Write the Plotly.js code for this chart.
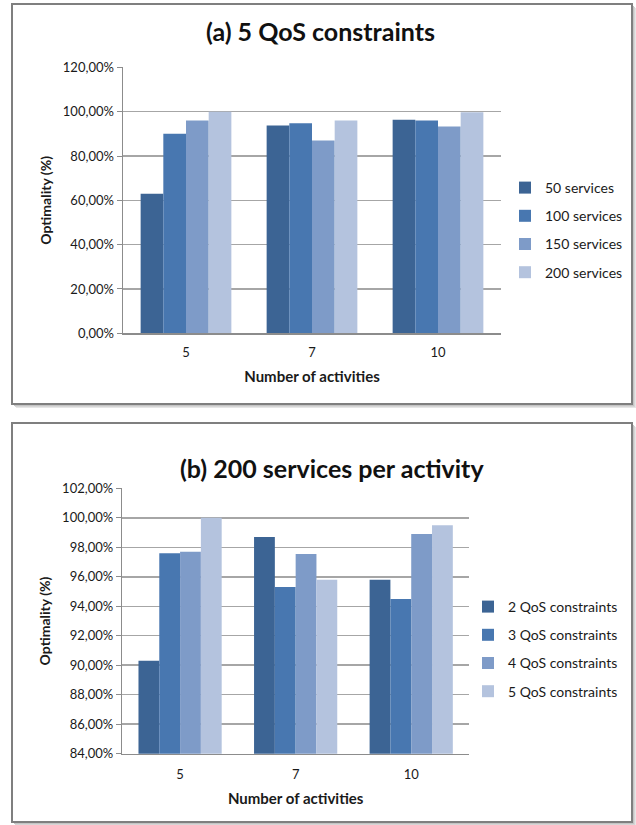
<!DOCTYPE html>
<html>
<head>
<meta charset="utf-8">
<script src="https://cdn.plot.ly/plotly-3.0.1.min.js"></script>
<style>html,body{margin:0;padding:0;background:#fff;}#chart{width:636px;height:825px;}</style>
</head>
<body>
<div id="chart"></div>
<script>
// ---- data ----
const activities = ['5', '7', '10'];
const seriesA = ['50 services', '100 services', '150 services', '200 services'];
const valuesA50  = [63.0, 93.8, 96.4];
const valuesA100 = [90.0, 94.8, 96.0];
const valuesA150 = [96.0, 87.0, 93.3];
const valuesA200 = [100.0, 96.0, 99.8];
const seriesB = ['2 QoS constraints', '3 QoS constraints', '4 QoS constraints', '5 QoS constraints'];
const valuesB2 = [90.3, 98.7, 95.8];
const valuesB3 = [97.6, 95.3, 94.5];
const valuesB4 = [97.7, 97.55, 98.9];
const valuesB5 = [100.0, 95.8, 99.5];
const titleA = '(a) 5 QoS constraints';
const titleB = '(b) 200 services per activity';
const yTitle = 'Optimality (%)';
const xTitle = 'Number of activities';

const colors = ['#3C6494', '#4877B0', '#7E9BC8', '#B4C3DE'];
const W = 636, H = 825;
const px = x => x / W;
const py = y => 1 - y / H;
const FONT = 'Lato, "Open Sans", sans-serif';

const valsA = [valuesA50, valuesA100, valuesA150, valuesA200];
const valsB = [valuesB2, valuesB3, valuesB4, valuesB5];

const traces = [];
seriesA.forEach((name, i) => traces.push({
  type: 'bar', x: activities, y: valsA[i], name: name,
  marker: {color: colors[i], line: {width: 0}},
  xaxis: 'x', yaxis: 'y', legend: 'legend', legendgroup: 'a' + i
}));
seriesB.forEach((name, i) => traces.push({
  type: 'bar', x: activities, y: valsB[i], name: name,
  marker: {color: colors[i], line: {width: 0}},
  xaxis: 'x2', yaxis: 'y2', legend: 'legend2', legendgroup: 'b' + i
}));

const axisCommon = {
  showline: true, linecolor: '#8C8C8C', linewidth: 1.5,
  tickfont: {family: FONT, size: 13, color: '#1a1a1a'},
  zeroline: false, fixedrange: true
};
const xTitleFont = {family: FONT, size: 15, color: '#1a1a1a', weight: 'bold'};
const yTitleFont = {family: FONT, size: 14, color: '#1a1a1a', weight: 'bold'};

function box(x0, y0, x1, y1) {
  const s = [];
  [[4, '#e6e6e6'], [3, '#d6d6d6'], [2, '#c4c4c4']].forEach(([o, c]) => {
    s.push({type: 'rect', xref: 'paper', yref: 'paper', layer: 'below',
      x0: px(x0 + o), x1: px(x1 + o), y0: py(y0 + o), y1: py(y1 + o),
      line: {width: 0}, fillcolor: c});
  });
  s.push({type: 'rect', xref: 'paper', yref: 'paper', layer: 'below',
    x0: px(x0), x1: px(x1), y0: py(y0), y1: py(y1),
    line: {width: 2, color: '#7F7F7F'}, fillcolor: '#ffffff'});
  return s;
}

const layout = {
  width: W, height: H,
  margin: {l: 0, r: 0, t: 0, b: 0},
  paper_bgcolor: '#ffffff', plot_bgcolor: 'rgba(0,0,0,0)',
  separators: ', ',
  barmode: 'group', bargap: 0.28, bargroupgap: 0,
  font: {family: FONT, color: '#1a1a1a'},
  showlegend: true,
  xaxis: Object.assign({}, axisCommon, {
    type: 'category', domain: [px(123), px(501)], anchor: 'y', ticks: '', showgrid: false,
    ticklabelstandoff: 7,
    title: {text: xTitle, font: xTitleFont, standoff: 12}
  }),
  yaxis: Object.assign({}, axisCommon, {
    domain: [py(333.3), py(67.4)], anchor: 'x', range: [0, 120], dtick: 20,
    tickformat: '.2f', ticksuffix: '%', ticks: 'outside', ticklen: 5, tickcolor: '#8C8C8C',
    showgrid: true, gridcolor: '#A6A6A6', gridwidth: 1.5,
    title: {text: yTitle, font: yTitleFont, standoff: 8}
  }),
  xaxis2: Object.assign({}, axisCommon, {
    type: 'category', domain: [px(122.3), px(469)], anchor: 'y2', ticks: '', showgrid: false,
    ticklabelstandoff: 8,
    title: {text: xTitle, font: xTitleFont, standoff: 12}
  }),
  yaxis2: Object.assign({}, axisCommon, {
    domain: [py(753.7), py(488.3)], anchor: 'x2', range: [84, 102], dtick: 2,
    tickformat: '.2f', ticksuffix: '%', ticks: 'outside', ticklen: 5, tickcolor: '#8C8C8C',
    showgrid: true, gridcolor: '#A6A6A6', gridwidth: 1.5,
    title: {text: yTitle, font: yTitleFont, standoff: 8}
  }),
  legend: {
    x: px(505), y: py(172), xanchor: 'left', yanchor: 'top',
    traceorder: 'grouped', tracegroupgap: 7, itemwidth: 30,
    font: {family: FONT, size: 14, color: '#1a1a1a'}, bgcolor: 'rgba(0,0,0,0)'
  },
  legend2: {
    x: px(468), y: py(591), xanchor: 'left', yanchor: 'top',
    traceorder: 'grouped', tracegroupgap: 7, itemwidth: 30,
    font: {family: FONT, size: 14, color: '#1a1a1a'}, bgcolor: 'rgba(0,0,0,0)'
  },
  annotations: [
    {text: titleA, xref: 'paper', yref: 'paper', x: px(320), y: py(31), xanchor: 'center', yanchor: 'middle',
     showarrow: false, font: {family: FONT, size: 25, color: '#111', weight: 'bold'}},
    {text: titleB, xref: 'paper', yref: 'paper', x: px(332), y: py(468), xanchor: 'center', yanchor: 'middle',
     showarrow: false, font: {family: FONT, size: 25, color: '#111', weight: 'bold'}}
  ],
  shapes: [].concat(box(12, 4, 632, 404), box(12, 423, 632, 822))
};

Plotly.newPlot('chart', traces, layout, {displayModeBar: false, staticPlot: true});
</script>
</body>
</html>
